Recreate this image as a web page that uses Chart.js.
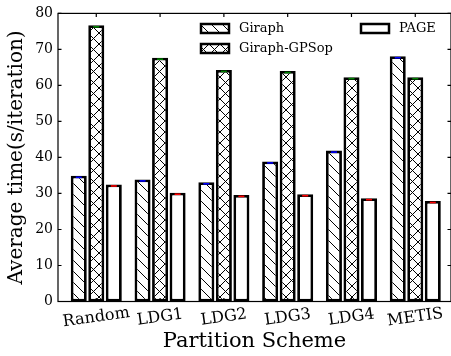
<!DOCTYPE html>
<html>
<head>
<meta charset="utf-8">
<script src="https://cdn.jsdelivr.net/npm/chart.js@4.4.1/dist/chart.umd.min.js"></script>
<style>
  html, body { margin: 0; padding: 0; background: #fff; }
  #wrap { width: 451px; height: 356px; }
</style>
</head>
<body>
<div id="wrap"><canvas id="chart"></canvas></div>
<script>
// ---- data ----
const schemes = ["Random", "LDG1", "LDG2", "LDG3", "LDG4", "METIS"];
const giraph  = [34.9, 33.9, 33.1, 38.9, 41.9, 68.1];
const gpsop   = [76.7, 67.7, 64.3, 64.0, 62.3, 62.3];
const page    = [32.5, 30.2, 29.6, 29.8, 28.7, 27.9];
const yTicks  = [0, 10, 20, 30, 40, 50, 60, 70, 80];

const SERIF = "'DejaVu Serif', serif";
const canvas = document.getElementById("chart");
const ctx = canvas.getContext("2d");

// hatch fills: "\" for Giraph, "x" for Giraph-GPSop
function hatch(kind) {
  const s = 11;
  const tile = document.createElement("canvas");
  tile.width = s; tile.height = s;
  const g = tile.getContext("2d");
  g.fillStyle = "#fff";
  g.fillRect(0, 0, s, s);
  g.strokeStyle = "#000";
  g.lineWidth = 1;
  g.beginPath();
  for (const o of [-s, 0, s]) {
    g.moveTo(-1 + o, -1); g.lineTo(s + 1 + o, s + 1);
    if (kind === "x") { g.moveTo(s + 1 + o, -1); g.lineTo(-1 + o, s + 1); }
  }
  g.stroke();
  return ctx.createPattern(tile, "repeat");
}

const toXY = arr => arr.map((v, i) => ({ x: i, y: v }));

// ---- frame, ticks, x labels, caps, legend ----
const extras = {
  id: "extras",
  afterDatasetsDraw(chart) {
    const c = chart.ctx;
    chart.data.datasets.forEach((ds, di) => {
      chart.getDatasetMeta(di).data.forEach(bar => {
        c.fillStyle = ds.capColor;
        c.fillRect(bar.x - 3, bar.y + 0.7, 6, 1.6);
      });
    });
  },
  afterDraw(chart) {
    const c = chart.ctx;
    const a = chart.chartArea;
    const { x, y } = chart.scales;
    c.save();
    c.strokeStyle = "#000";
    c.lineWidth = 1.2;
    c.strokeRect(a.left, a.top, a.right - a.left, a.bottom - a.top);

    // inward ticks
    c.beginPath();
    yTicks.forEach(v => {
      const py = y.getPixelForValue(v);
      c.moveTo(a.left, py);  c.lineTo(a.left + 3.5, py);
      c.moveTo(a.right, py); c.lineTo(a.right - 3.5, py);
    });
    schemes.forEach((_, i) => {
      const px = x.getPixelForValue(i);
      c.moveTo(px, a.top);    c.lineTo(px, a.top + 3.5);
      c.moveTo(px, a.bottom); c.lineTo(px, a.bottom - 3.5);
    });
    c.stroke();

    // rotated category labels
    c.font = `16px ${SERIF}`;
    c.fillStyle = "#000";
    c.textAlign = "center";
    c.textBaseline = "middle";
    schemes.forEach((name, i) => {
      c.save();
      c.translate(x.getPixelForValue(i), a.bottom + 16);
      c.rotate(-8 * Math.PI / 180);
      c.fillText(name, 0, 0);
      c.restore();
    });

    // legend (2 columns)
    const spots = [[201, 24], [201, 44], [361, 24]];
    c.font = `13px ${SERIF}`;
    c.textAlign = "left";
    chart.data.datasets.forEach((ds, i) => {
      const [lx, ly] = spots[i];
      c.fillStyle = ds.backgroundColor;
      c.fillRect(lx, ly, 28, 9);
      c.lineWidth = 2.5;
      c.strokeRect(lx, ly, 28, 9);
      c.fillStyle = "#000";
      c.fillText(ds.label, lx + 38, ly + 5);
    });
    c.restore();
  }
};

new Chart(ctx, {
  type: "bar",
  data: {
    datasets: [
      { label: "Giraph",       data: toXY(giraph), backgroundColor: hatch("\\"), capColor: "#0000ff" },
      { label: "Giraph-GPSop", data: toXY(gpsop),  backgroundColor: hatch("x"),  capColor: "#008000" },
      { label: "PAGE",         data: toXY(page),   backgroundColor: "#fff",      capColor: "#ff0000" }
    ]
  },
  options: {
    responsive: true,
    maintainAspectRatio: false,
    animation: false,
    events: [],
    layout: { padding: { top: 11, right: 0, left: 0, bottom: 0 } },
    datasets: {
      bar: { borderColor: "#000", borderWidth: 2.8, borderSkipped: false, categoryPercentage: 0.824, barPercentage: 0.914 }
    },
    plugins: { legend: { display: false }, tooltip: { enabled: false } },
    scales: {
      x: {
        type: "linear",
        min: -0.6,
        max: 5.56,
        offset: false,
        grid: { display: false, drawTicks: false, offset: false },
        border: { display: false },
        ticks: { display: false, stepSize: 1, includeBounds: false },
        title: {
          display: true, text: "Partition Scheme", color: "#000",
          font: { family: SERIF, size: 21, lineHeight: 1 },
          padding: { top: 0, bottom: 4 }
        },
        afterFit: s => { s.height = 54.5; }
      },
      y: {
        min: 0,
        max: 80,
        grid: { display: false, drawTicks: false },
        border: { display: false },
        ticks: { padding: 5, color: "#000", font: { family: SERIF, size: 14 } },
        afterBuildTicks: s => { s.ticks = yTicks.map(v => ({ value: v })); },
        title: {
          display: true, text: "Average time(s/iteration)", color: "#000",
          font: { family: SERIF, size: 20, lineHeight: 1 },
          padding: { top: 7, bottom: 0 }
        },
        afterFit: s => { s.width = 58; }
      }
    }
  },
  plugins: [extras]
});
</script>
</body>
</html>
